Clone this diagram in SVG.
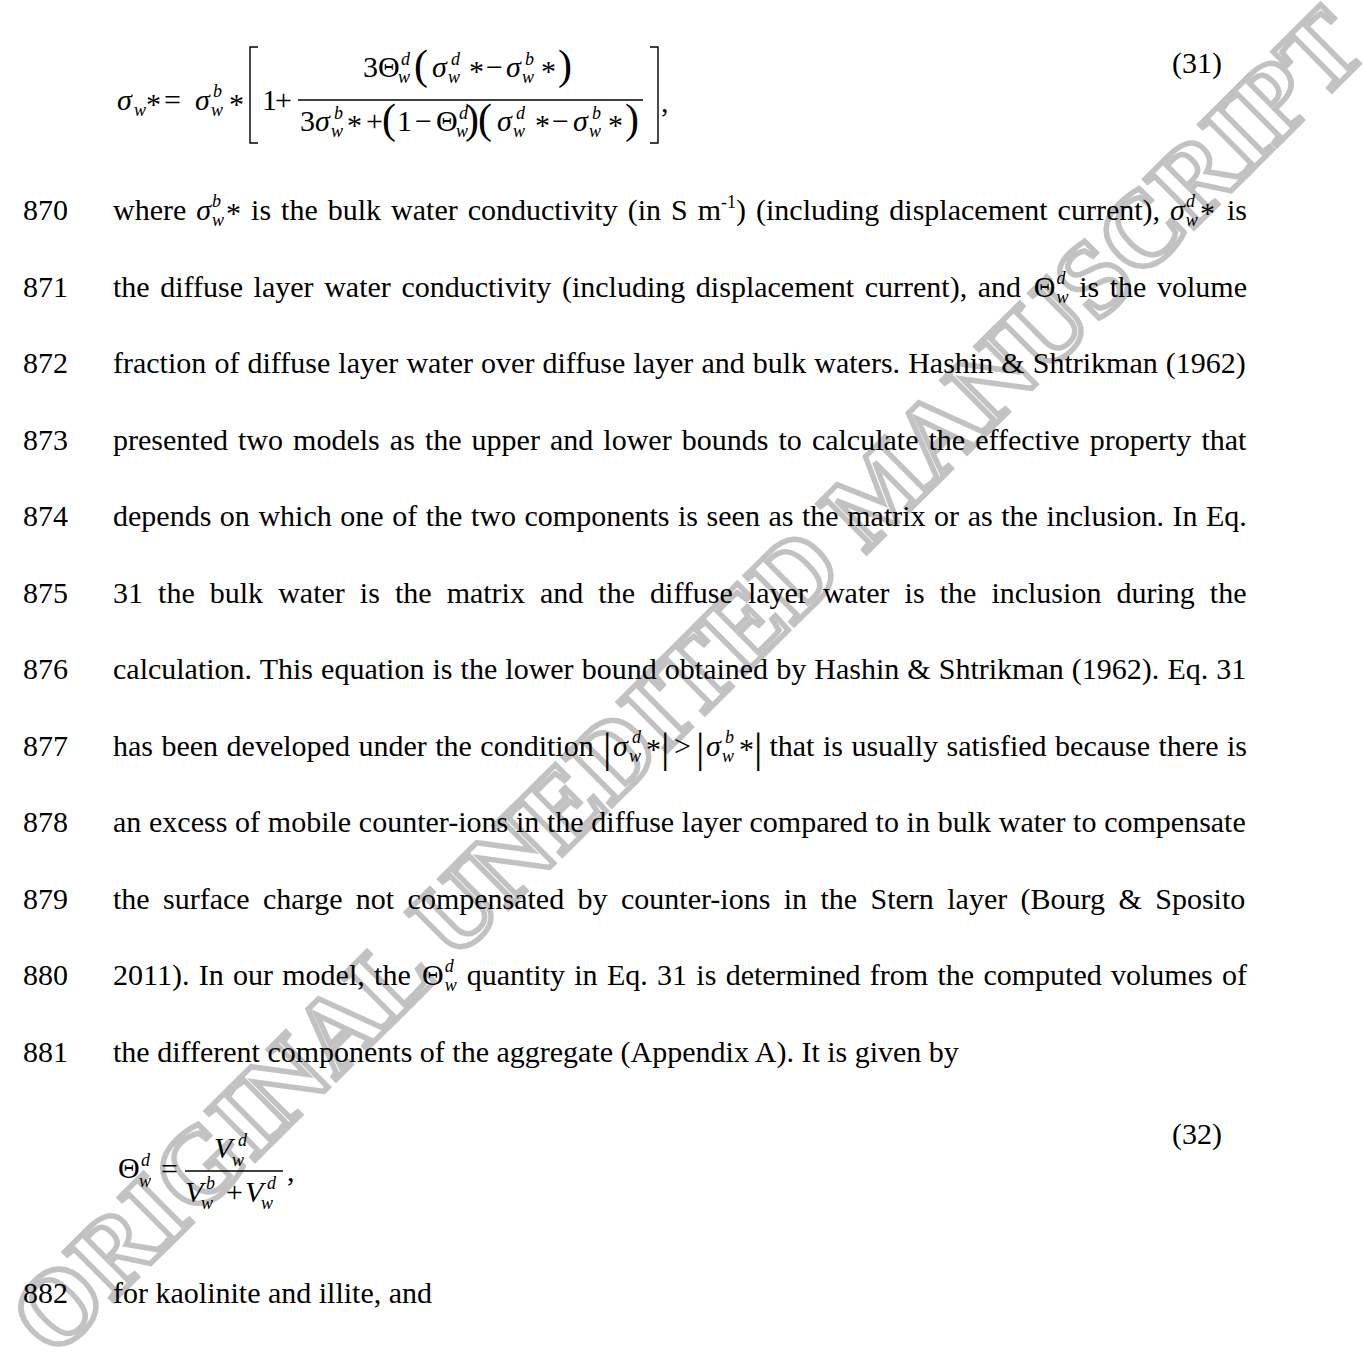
<svg xmlns="http://www.w3.org/2000/svg" width="1364" height="1367" viewBox="0 0 1364 1367">
<style>
text{font-family:"Liberation Serif","Times New Roman",serif;fill:#000}
.t{font-size:30px}
.i{font-style:italic}
.s{font-size:18px;font-style:italic}
.p{font-size:42px}
.bar{fill:none;stroke:#000;stroke-width:1.4}
.wm{font-size:105px;font-weight:bold;fill:none;stroke:#c2c2c2;stroke-width:5.5;stroke-linejoin:miter}
</style>
<rect width="1364" height="1367" fill="#fff"/>
<g id="watermark"><text class="wm" transform="translate(712,706) rotate(-44.8)" text-anchor="middle">ORIGINAL UNEDITED MANUSCRIPT</text></g>

<g id="eq31">
<text x="117" y="110" class="t i">σ</text>
<text x="134" y="116" class="s">w</text>
<text x="146" y="114" class="t">*</text>
<text x="164" y="110" class="t">=</text>
<text x="195" y="110" class="t i">σ</text>
<text x="213" y="97" class="s">b</text>
<text x="211" y="116" class="s">w</text>
<text x="229" y="114" class="t">*</text>
<path class="bar" d="M258,47 H250 V143 H258"/>
<text x="262" y="110" class="t">1</text>
<text x="275" y="110" class="t">+</text>
<line class="bar" x1="298" y1="100" x2="643" y2="100"/>
<text x="363" y="77" class="t">3Θ</text>
<text x="401" y="65" class="s">d</text>
<text x="398" y="83" class="s">w</text>
<text x="414" y="79" class="p">(</text>
<text x="432" y="77" class="t i">σ</text>
<text x="451" y="65" class="s">d</text>
<text x="448" y="83" class="s">w</text>
<text x="469" y="81" class="t">*</text>
<text x="486" y="77" class="t">−</text>
<text x="506" y="77" class="t i">σ</text>
<text x="525" y="65" class="s">b</text>
<text x="522" y="83" class="s">w</text>
<text x="541" y="81" class="t">*</text>
<text x="558" y="79" class="p">)</text>
<text x="300" y="131" class="t">3</text>
<text x="315" y="131" class="t i">σ</text>
<text x="334" y="119" class="s">b</text>
<text x="331" y="137" class="s">w</text>
<text x="347" y="135" class="t">*</text>
<text x="366" y="131" class="t">+</text>
<text x="382" y="133" class="p">(</text>
<text x="397" y="131" class="t">1</text>
<text x="415" y="131" class="t">−</text>
<text x="436" y="131" class="t">Θ</text>
<text x="459" y="119" class="s">d</text>
<text x="456" y="137" class="s">w</text>
<text x="465" y="133" class="p">)</text>
<text x="478" y="133" class="p">(</text>
<text x="497" y="131" class="t i">σ</text>
<text x="516" y="119" class="s">d</text>
<text x="513" y="137" class="s">w</text>
<text x="535" y="135" class="t">*</text>
<text x="552" y="131" class="t">−</text>
<text x="573" y="131" class="t i">σ</text>
<text x="592" y="119" class="s">b</text>
<text x="589" y="137" class="s">w</text>
<text x="608" y="135" class="t">*</text>
<text x="625" y="133" class="p">)</text>
<path class="bar" d="M650,47 H658 V143 H650"/>
<text x="661" y="112" class="t">,</text>
<text x="1172" y="73" class="t">(31)</text>
</g>

<g id="linenumbers">
<text x="23" y="220" class="t">870</text>
<text x="23" y="296.5" class="t">871</text>
<text x="23" y="373" class="t">872</text>
<text x="23" y="449.5" class="t">873</text>
<text x="23" y="526" class="t">874</text>
<text x="23" y="602.5" class="t">875</text>
<text x="23" y="679" class="t">876</text>
<text x="23" y="755.5" class="t">877</text>
<text x="23" y="832" class="t">878</text>
<text x="23" y="908.5" class="t">879</text>
<text x="23" y="985" class="t">880</text>
<text x="23" y="1061.5" class="t">881</text>
<text x="23" y="1303" class="t">882</text>
</g>

<g id="body">
<text class="t" x="113" y="220" word-spacing="2.5">where <tspan class="i">σ</tspan><tspan class="s" dx="1" dy="6">w</tspan><tspan class="s" dx="-12" dy="-19">b</tspan><tspan dx="5" dy="16">*</tspan><tspan dy="-3"> is the bulk water conductivity (in S m</tspan><tspan font-size="18" dy="-12">-1</tspan><tspan dy="12">) (including displacement current), </tspan><tspan class="i">σ</tspan><tspan class="s" dx="1" dy="6">w</tspan><tspan class="s" dx="-12" dy="-19">d</tspan><tspan dx="5" dy="16">*</tspan></text>
<text class="t" x="1247" y="220" text-anchor="end">is</text>

<text class="t" x="113" y="296.5" word-spacing="3.1">the diffuse layer water conductivity (including displacement current), and <tspan dx="2">Θ</tspan><tspan class="s" dx="1" dy="6">w</tspan><tspan class="s" dx="-12" dy="-19">d</tspan></text>
<text class="t" x="1247" y="296.5" text-anchor="end" word-spacing="3.1">is the volume</text>

<text class="t" x="113" y="373" word-spacing="0.6">fraction of diffuse layer water over diffuse layer and bulk waters. Hashin &amp; Shtrikman (1962)</text>
<text class="t" x="113" y="449.5" word-spacing="2.57">presented two models as the upper and lower bounds to calculate the effective property that</text>
<text class="t" x="113" y="526" word-spacing="1.06">depends on which one of the two components is seen as the matrix or as the inclusion. In Eq.</text>
<text class="t" x="113" y="602.5" word-spacing="7.56">31 the bulk water is the matrix and the diffuse layer water is the inclusion during the</text>
<text class="t" x="113" y="679" word-spacing="0.59">calculation. This equation is the lower bound obtained by Hashin &amp; Shtrikman (1962). Eq. 31</text>

<text class="t" x="113" y="755.5" word-spacing="1">has been developed under the condition</text>
<text x="603" y="762" class="p">|</text>
<text x="613" y="755.5" class="t i">σ</text>
<text x="632" y="742.5" class="s">d</text>
<text x="629" y="761.5" class="s">w</text>
<text x="646" y="759" class="t">*</text>
<text x="661" y="762" class="p">|</text>
<text x="674" y="755.5" class="t">&gt;</text>
<text x="696" y="762" class="p">|</text>
<text x="706" y="755.5" class="t i">σ</text>
<text x="725" y="742.5" class="s">b</text>
<text x="722" y="761.5" class="s">w</text>
<text x="739" y="759" class="t">*</text>
<text x="754" y="762" class="p">|</text>
<text class="t" x="1247" y="755.5" text-anchor="end" word-spacing="1">that is usually satisfied because there is</text>

<text class="t" x="113" y="832" word-spacing="0.23">an excess of mobile counter-ions in the diffuse layer compared to in bulk water to compensate</text>
<text class="t" x="113" y="908.5" word-spacing="5.9">the surface charge not compensated by counter-ions in the Stern layer (Bourg &amp; Sposito</text>

<text class="t" x="113" y="985" word-spacing="1.8">2011). In our model, the <tspan dx="2">Θ</tspan><tspan class="s" dx="1" dy="6">w</tspan><tspan class="s" dx="-12" dy="-19">d</tspan></text>
<text class="t" x="1247" y="985" text-anchor="end" word-spacing="1.8">quantity in Eq. 31 is determined from the computed volumes of</text>

<text class="t" x="113" y="1061.5">the different components of the aggregate (Appendix A). It is given by</text>
<text class="t" x="113" y="1303">for kaolinite and illite, and</text>
</g>

<g id="eq32">
<text x="118" y="1178" class="t">Θ</text>
<text x="141" y="1166" class="s">d</text>
<text x="139" y="1187" class="s">w</text>
<text x="161" y="1179" class="t">=</text>
<line class="bar" x1="185" y1="1171" x2="283" y2="1171"/>
<text x="214" y="1158" class="t i">V</text>
<text x="238" y="1146" class="s">d</text>
<text x="232" y="1166" class="s">w</text>
<text x="185" y="1202" class="t i">V</text>
<text x="206" y="1189" class="s">b</text>
<text x="201" y="1209" class="s">w</text>
<text x="226" y="1202" class="t">+</text>
<text x="245" y="1202" class="t i">V</text>
<text x="267" y="1189" class="s">d</text>
<text x="261" y="1209" class="s">w</text>
<text x="287" y="1181" class="t">,</text>
<text x="1172" y="1144" class="t">(32)</text>
</g>
</svg>
